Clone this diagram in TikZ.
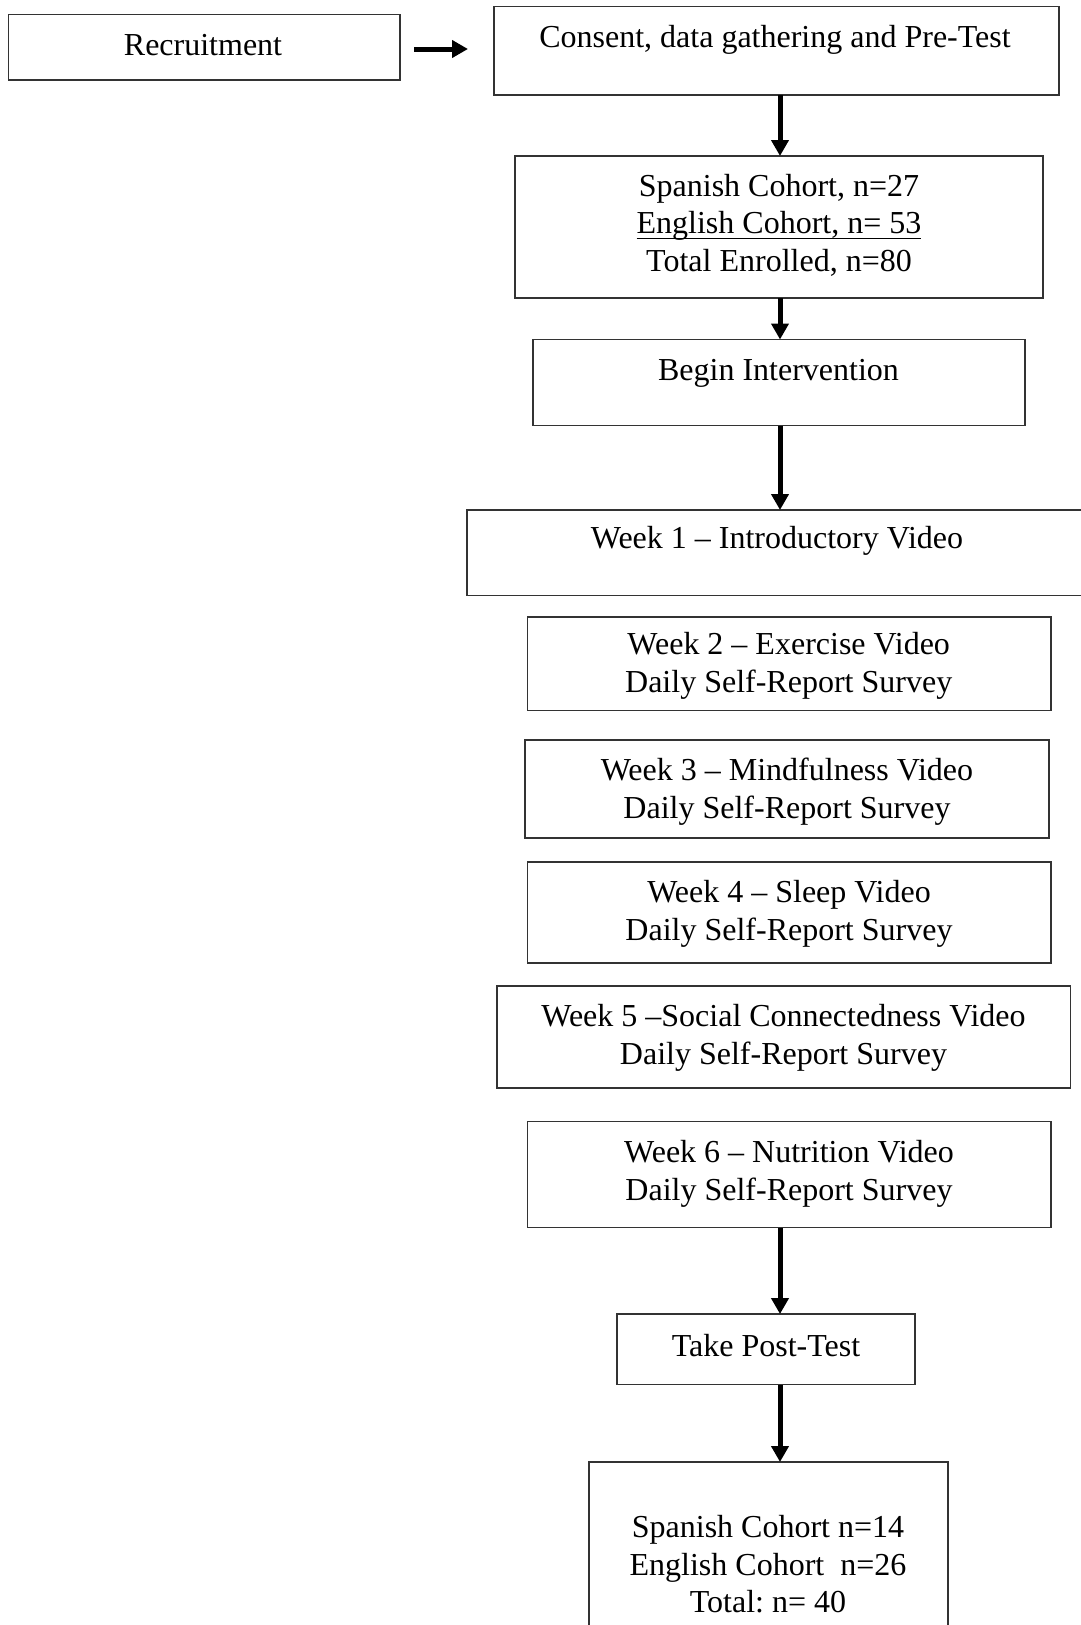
\documentclass[tikz,border=0pt]{standalone}
\usepackage{fontspec}
\setmainfont{Liberation Serif}
\usetikzlibrary{arrows.meta}
\newcommand\myuline[1]{\setbox0\hbox{#1}\leavevmode\rlap{\rule[-5.5pt]{\wd0}{1.5pt}}\box0}
\begin{document}
\begin{tikzpicture}[x=1pt,y=-1pt,
  box/.style={draw=black!80, line width=1.4pt, inner sep=0pt, outer sep=0pt, rectangle},
  txt/.style={align=center, inner sep=0pt, font=\fontsize{32}{37.5}\selectfont\frenchspacing, text height=22pt, text depth=7pt},
  arr/.style={line width=5pt, -{Triangle[width=17pt,length=16pt]}}]
\useasboundingbox (0,0) rectangle (1081,1625);
\clip (0,0) rectangle (1081,1625);
\fill[white] (0,0) rectangle (1081,1625);
% boxes
\node[box, minimum width=391.7pt, minimum height=65.3pt] (rec) at (204.2,47.4) {};
\node[box, minimum width=565pt, minimum height=88.3pt] (cons) at (776.5,50.9) {};
\node[box, minimum width=528pt, minimum height=142pt] (spa) at (779,227) {};
\node[box, minimum width=492pt, minimum height=86pt] (beg) at (779,382.5) {};
\node[box, minimum width=620pt, minimum height=85.6pt] (w1) at (777,552.8) {};
\node[box, minimum width=523.3pt, minimum height=93.5pt] (w2) at (789.4,663.7) {};
\node[box, minimum width=524pt, minimum height=98pt] (w3) at (787,789) {};
\node[box, minimum width=523.3pt, minimum height=101pt] (w4) at (789.4,912.5) {};
\node[box, minimum width=573.5pt, minimum height=102pt] (w5) at (783.7,1037) {};
\node[box, minimum width=523.3pt, minimum height=106pt] (w6) at (789.4,1174.7) {};
\node[box, minimum width=298pt, minimum height=70.7pt] (post) at (766,1349.4) {};
\node[box, minimum width=359pt, minimum height=180pt] (fin) at (768.5,1552) {};
% texts (y = centre of the last line)
\node[txt] (trec) at (203,48) {Recruitment};
\node[txt] (tcons) at (775,40) {Consent, data gathering and Pre-Test};
\node[txt] (tspa) at (779,263.5) {Spanish Cohort, n=27\\\myuline{English Cohort, n= 53}\\Total Enrolled, n=80};
\node[txt] (tbeg) at (778.5,372.5) {Begin Intervention};
\node[txt] (tw1) at (777,541) {Week 1 -- Introductory Video};
\node[txt] (tw2) at (788.7,684.5) {Week 2 -- Exercise Video\\Daily Self-Report Survey};
\node[txt] (tw3) at (787,810.5) {Week 3 -- Mindfulness Video\\Daily Self-Report Survey};
\node[txt] (tw4) at (789,932.5) {Week 4 -- Sleep Video\\Daily Self-Report Survey};
\node[txt] (tw5) at (783.5,1056.5) {Week 5 --Social Connectedness Video\\Daily Self-Report Survey};
\node[txt] (tw6) at (789,1192.5) {Week 6 -- Nutrition Video\\Daily Self-Report Survey};
\node[txt] (tpost) at (766,1349.2) {Take Post-Test};
\node[txt] (tfin) at (768,1605) {Spanish Cohort n=14\\English Cohort~ n=26\\Total: n= 40};
% arrows
\coordinate (ax) at (780,0);
\draw[arr] ([xshift=14pt,yshift=-1.6pt]rec.east) -- ([xshift=-26pt,yshift=-1.6pt]cons.west |- rec.east);
\draw[arr] (cons.south -| ax) -- (spa.north -| ax);
\draw[arr] (spa.south -| ax) -- (beg.north -| ax);
\draw[arr] (beg.south -| ax) -- (w1.north -| ax);
\draw[arr] (w6.south -| ax) -- (post.north -| ax);
\draw[arr] (post.south -| ax) -- (fin.north -| ax);
\end{tikzpicture}
\end{document}
